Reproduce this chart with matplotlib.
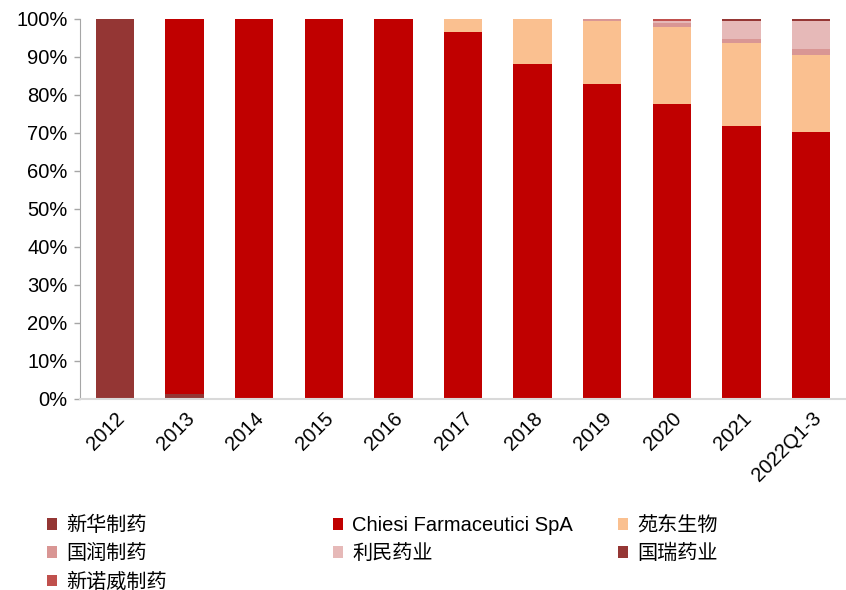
import matplotlib
matplotlib.use("Agg")
import matplotlib.pyplot as plt
from matplotlib.patches import Patch
import numpy as np

categories = ["2012", "2013", "2014", "2015", "2016", "2017", "2018", "2019", "2020", "2021", "2022Q1-3"]
xinhua   = [100, 1.2, 0, 0, 0, 0, 0, 0, 0, 0, 0]
chiesi   = [0, 98.8, 100, 100, 100, 96.6, 88.2, 82.9, 77.6, 71.8, 70.3]
yuandong = [0, 0, 0, 0, 0, 3.4, 11.8, 16.6, 20.4, 21.9, 20.2]
guorun   = [0, 0, 0, 0, 0, 0, 0, 0.5, 1.0, 1.1, 1.6]
limin    = [0, 0, 0, 0, 0, 0, 0, 0, 0.5, 4.7, 7.4]
guorui   = [0, 0, 0, 0, 0, 0, 0, 0, 0, 0.5, 0.5]
xinnuowei = [0, 0, 0, 0, 0, 0, 0, 0, 0.5, 0, 0]
yticks = [0, 10, 20, 30, 40, 50, 60, 70, 80, 90, 100]

series = [
    ("新华制药", xinhua, "#943634"),
    ("Chiesi Farmaceutici SpA", chiesi, "#C00000"),
    ("苑东生物", yuandong, "#FAC090"),
    ("国润制药", guorun, "#D99694"),
    ("利民药业", limin, "#E6B9B8"),
    ("国瑞药业", guorui, "#953735"),
    ("新诺威制药", xinnuowei, "#C0504D"),
]

plt.rcParams['font.family'] = ['Liberation Sans', 'Noto Sans CJK SC', 'DejaVu Sans']

fig = plt.figure(figsize=(8.46, 5.9), dpi=100)
ax = fig.add_axes([80/846, (590-399)/590, 766/846, 380/590])

x = np.arange(len(categories))
bottom = np.zeros(len(categories))
handles = {}
for name, vals, col in series:
    v = np.array(vals, dtype=float)
    ax.bar(x, v, bottom=bottom, width=0.55, color=col, edgecolor='none')
    bottom += v
    handles[name] = Patch(facecolor=col, edgecolor='none')

ax.set_xlim(-0.5, len(categories) - 0.5)
ax.set_ylim(0, 100)
ax.set_yticks(yticks)
ax.set_yticklabels([f"{t}%" for t in yticks], fontsize=14.5)
ax.set_xticks(x)
ax.set_xticklabels(categories, fontsize=14.5, rotation=45, ha='right', rotation_mode='anchor')
ax.tick_params(axis='x', length=0, pad=7)
ax.tick_params(axis='y', length=4, width=1, color='#A6A6A6', pad=5, direction='out')
for s in ['top', 'right']:
    ax.spines[s].set_visible(False)
ax.spines['left'].set_color('#A6A6A6')
ax.spines['bottom'].set_color('#D9D9D9')
ax.spines['bottom'].set_linewidth(1.5)

cols = [["新华制药", "国润制药", "新诺威制药"], ["Chiesi Farmaceutici SpA", "利民药业"], ["苑东生物", "国瑞药业"]]
xs = [47, 333, 618]
for cx, names in zip(xs, cols):
    fig.legend([handles[n] for n in names], names, loc='upper left',
               bbox_to_anchor=(cx/846, 1 - 516/590), frameon=False, fontsize=14.5,
               handlelength=0.5, handleheight=0.5, handletextpad=0.45,
               labelspacing=0.45, borderaxespad=0, borderpad=0)

fig.savefig("out.png", dpi=100)
